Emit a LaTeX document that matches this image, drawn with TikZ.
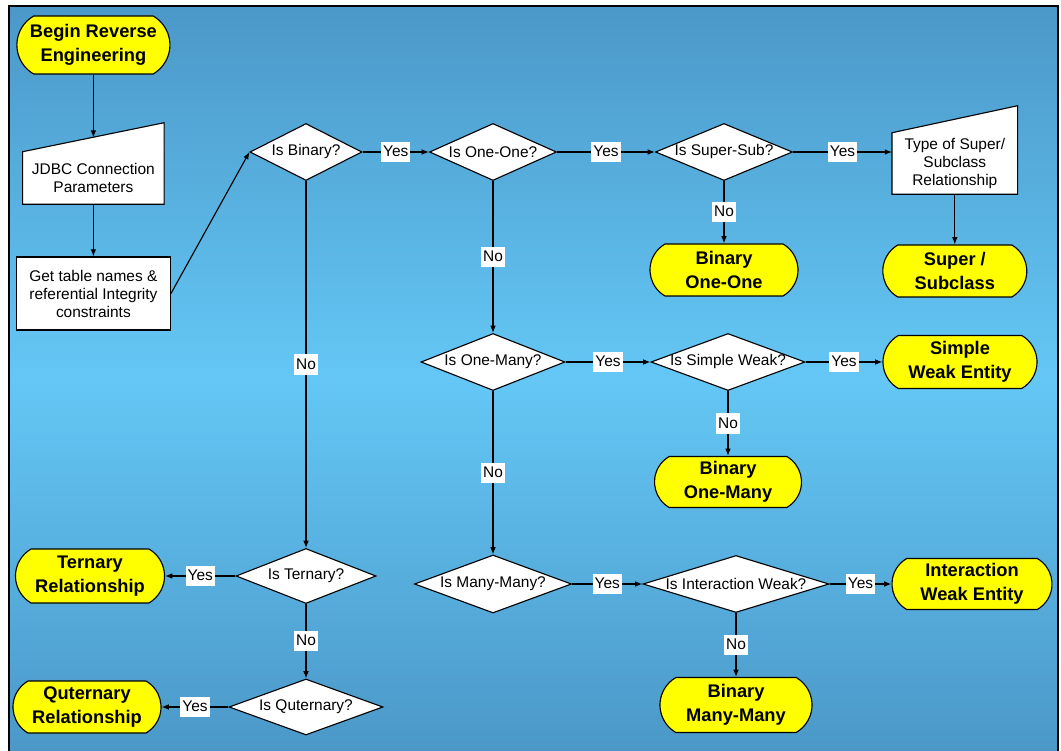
\documentclass[tikz,border=0pt]{standalone}
\usepackage{fontspec}
\setmainfont{Liberation Sans}
\usetikzlibrary{arrows.meta,shapes.geometric,shapes.misc}
\definecolor{bgdark}{HTML}{4B98C8}
\definecolor{bglight}{HTML}{64C7F5}
\definecolor{termfill}{HTML}{FFFF00}
\newcommand{\qtxt}[1]{\makebox[0pt]{#1}}
\tikzset{
  term/.style={rounded rectangle, rounded rectangle arc length=120, draw=black, fill=termfill, line width=0.8pt, inner sep=0pt, align=center, font=\fontsize{13}{17}\selectfont\bfseries},
  proc/.style={rectangle, fill=white, inner sep=0pt, align=center, font=\fontsize{11}{12.8}\selectfont},
  procbox/.style={proc, draw=black, line width=0.8pt},
  procedge/.style={draw=black, line width=0.8pt, line join=miter},
  dec/.style={diamond, draw=black, fill=white, line width=0.8pt, inner sep=0pt, font=\fontsize{11}{13}\selectfont},
  arr/.style={-{Latex[length=1.8mm,width=1.4mm]}, draw=black, line width=0.8pt},
  lab/.style={fill=white, inner xsep=1.5pt, inner ysep=2.5pt, text height=8pt, text depth=1.5pt, font=\fontsize{11}{13}\selectfont},
  bgframe/.style={draw=black, line width=1.8pt},
}

\begin{document}
\begin{tikzpicture}[x=1cm,y=1cm]
  \useasboundingbox (0,0) rectangle (26.525,-18.775);
  \shade[top color=bgdark, bottom color=bgdark, middle color=bglight] (0.225,-0.150) rectangle (26.450,-18.775);
  \draw[bgframe] (0.225,-18.775) -- (0.225,-0.150) -- (26.450,-0.150) -- (26.450,-18.775);

  \node[term, minimum width=3.825cm, minimum height=1.450cm] (begin) at (2.335,-1.125) {Begin Reverse\\Engineering};
  \node[proc, minimum width=3.525cm, minimum height=1.300cm] (jdbc) at (2.335,-4.450) {JDBC Connection\\Parameters};
  \fill[white] (jdbc.north west) -- ([yshift=0.725cm]jdbc.north east) -- ([yshift=-1pt]jdbc.north east) -- ([yshift=-1pt]jdbc.north west) -- cycle;
  \draw[procedge] (jdbc.south west) -- (jdbc.south east) -- ([yshift=0.725cm]jdbc.north east) -- (jdbc.north west) -- cycle;
  \coordinate (jdbcin) at (2.335,-3.438);
  \node[procbox, minimum width=3.850cm, minimum height=1.825cm] (gettbl) at (2.335,-7.338) {Get table names \&\\referential Integrity\\constraints};

  \node[dec, minimum width=2.800cm, minimum height=1.425cm] (isbin) at (7.650,-3.800) {\qtxt{Is Binary?}};
  \node[dec, minimum width=3.175cm, minimum height=1.425cm] (isoo) at (12.325,-3.800) {\qtxt{Is One-One?}};
  \node[dec, minimum width=3.425cm, minimum height=1.425cm] (isss) at (18.100,-3.800) {\qtxt{Is Super-Sub?}};
  \node[proc, minimum width=3.125cm, minimum height=1.525cm] (typess) at (23.870,-4.088) {Type of Super/\\Subclass\\Relationship};
  \fill[white] (typess.north west) -- ([yshift=0.675cm]typess.north east) -- ([yshift=-1pt]typess.north east) -- ([yshift=-1pt]typess.north west) -- cycle;
  \draw[procedge] (typess.south west) -- (typess.south east) -- ([yshift=0.675cm]typess.north east) -- (typess.north west) -- cycle;
  \node[term, minimum width=3.700cm, minimum height=1.300cm] (binoo) at (18.100,-6.750) {Binary\\One-One};
  \node[term, minimum width=3.600cm, minimum height=1.300cm] (supsub) at (23.870,-6.775) {Super /\\Subclass};

  \node[dec, minimum width=3.600cm, minimum height=1.425cm] (isom) at (12.325,-9.050) {\qtxt{Is One-Many?}};
  \node[dec, minimum width=3.850cm, minimum height=1.425cm] (issw) at (18.200,-9.050) {\qtxt{Is Simple Weak?}};
  \node[term, minimum width=3.850cm, minimum height=1.325cm] (simwe) at (24.000,-9.050) {Simple\\Weak Entity};
  \node[term, minimum width=3.675cm, minimum height=1.275cm] (binom) at (18.200,-12.050) {Binary\\One-Many};

  \node[dec, minimum width=3.925cm, minimum height=1.450cm] (ismm) at (12.325,-14.600) {\qtxt{Is Many-Many?}};
  \node[dec, minimum width=4.650cm, minimum height=1.425cm] (isiw) at (18.400,-14.600) {\qtxt{Is Interaction Weak?}};
  \node[term, minimum width=4.000cm, minimum height=1.275cm] (intwe) at (24.300,-14.600) {Interaction\\Weak Entity};
  \node[term, minimum width=3.800cm, minimum height=1.375cm] (binmm) at (18.400,-17.625) {Binary\\Many-Many};

  \node[dec, minimum width=3.500cm, minimum height=1.375cm] (ister) at (7.650,-14.400) {\qtxt{Is Ternary?}};
  \node[term, minimum width=3.725cm, minimum height=1.350cm] (terrel) at (2.250,-14.400) {Ternary\\Relationship};
  \node[dec, minimum width=3.850cm, minimum height=1.400cm] (isqua) at (7.650,-17.675) {\qtxt{Is Quternary?}};
  \node[term, minimum width=3.700cm, minimum height=1.300cm] (quarel) at (2.175,-17.675) {Quternary\\Relationship};

  \draw[arr] (begin.south) -- (jdbcin);
  \draw[arr] (jdbc.south) -- (gettbl.north);
  \draw[arr] (gettbl.east) -- (isbin.west);
  \draw[arr] (isbin.east) -- node[lab] {Yes} (isoo.west);
  \draw[arr] (isoo.east) -- node[lab] {Yes} (isss.west);
  \draw[arr] (isss.east) -- node[lab] {Yes} (isss.east -| typess.west);
  \draw[arr] (isss.south) -- node[lab] {No} (binoo.north);
  \draw[arr] (typess.south) -- (supsub.north);
  \draw[arr] (isoo.south) -- node[lab] {No} (isom.north);
  \draw[arr] (isom.east) -- node[lab] {Yes} (issw.west);
  \draw[arr] (issw.east) -- node[lab] {Yes} (simwe.west);
  \draw[arr] (issw.south) -- node[lab] {No} (binom.north);
  \draw[arr] (isom.south) -- node[lab] {No} (ismm.north);
  \draw[arr] (ismm.east) -- node[lab] {Yes} (isiw.west);
  \draw[arr] (isiw.east) -- node[lab] {Yes} (intwe.west);
  \draw[arr] (isiw.south) -- node[lab] {No} (binmm.north);
  \draw[arr] (isbin.south) -- node[lab] {No} (ister.north);
  \draw[arr] (ister.west) -- node[lab] {Yes} (terrel.east);
  \draw[arr] (ister.south) -- node[lab] {No} (isqua.north);
  \draw[arr] (isqua.west) -- node[lab] {Yes} (quarel.east);
\end{tikzpicture}
\end{document}
